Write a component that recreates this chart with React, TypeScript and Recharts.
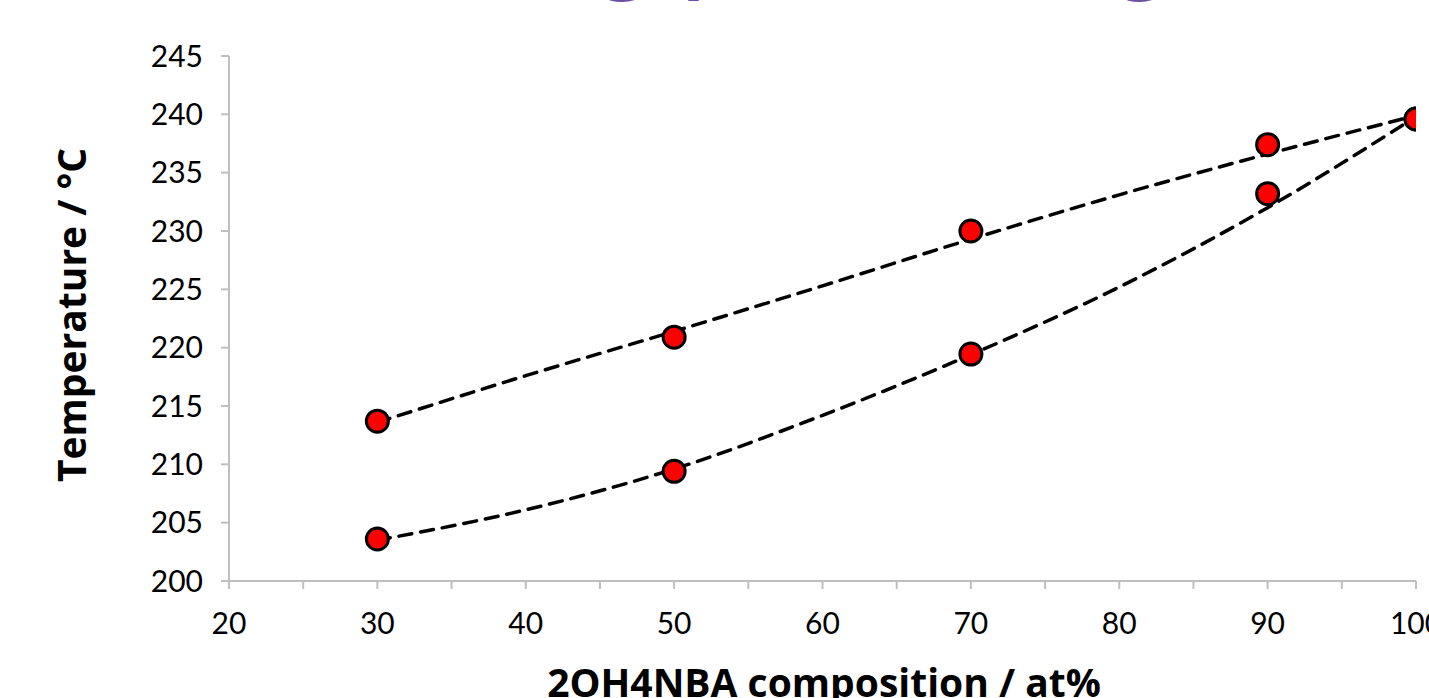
import { ComposedChart, Line, Scatter, XAxis, YAxis } from "recharts";

// measured melting temperatures (°C) vs 2OH4NBA composition (at%)
const liquidusPts = [
  { x: 30, y: 213.7 },
  { x: 50, y: 220.9 },
  { x: 70, y: 230.0 },
  { x: 90, y: 237.4 },
  { x: 100, y: 239.6 },
];
const solidusPts = [
  { x: 30, y: 203.6 },
  { x: 50, y: 209.4 },
  { x: 70, y: 219.45 },
  { x: 90, y: 233.2 },
  { x: 100, y: 239.6 },
];

// dashed trend curves
const fitX = [30, 40, 50, 60, 70, 80, 90, 100];
const liquidusFit = [213.6, 217.6, 221.4, 225.3, 229.3, 233.1, 236.6, 239.9];
const solidusFit = [203.5, 206.1, 209.6, 214.2, 219.4, 225.2, 232.0, 239.8];

const xTicks = [20, 25, 30, 35, 40, 45, 50, 55, 60, 65, 70, 75, 80, 85, 90, 95, 100];
const yTicks = [200, 205, 210, 215, 220, 225, 230, 235, 240, 245];

const upperLine = fitX.map((x, i) => ({ x, y: liquidusFit[i] }));
const lowerLine = fitX.map((x, i) => ({ x, y: solidusFit[i] }));

const FONT = "Lato, 'Open Sans', sans-serif";
const LABEL_FONT = "'Open Sans', sans-serif";
const AXIS = "#bfbfbf";

const Dot = (props: any) => {
  const { cx, cy } = props;
  if (cx == null || cy == null) return null;
  return <circle cx={cx} cy={cy} r={11} fill="#ff0000" stroke="#000" strokeWidth={3} />;
};

export default function App() {
  return (
    <div style={{ position: "absolute", left: 0, top: 0, width: 1429, height: 698, background: "#fff", overflow: "hidden" }}>
      <svg width={1429} height={698} style={{ position: "absolute", left: 0, top: 0 }}>
        <text
          x={271}
          y={-19}
          textLength={1089}
          lengthAdjust="spacing"
          fontFamily={FONT}
          fontSize={115}
          fill="#6a4fa6"
        >
          Melting point diagram
        </text>
        <text
          x={0}
          y={0}
          transform="translate(86, 315) rotate(-90)"
          textAnchor="middle"
          fontFamily={LABEL_FONT}
          fontWeight={700}
          fontSize={39}
          fill="#000"
        >
          Temperature / °C
        </text>
        <text x={824} y={697} textAnchor="middle" fontFamily={LABEL_FONT} fontWeight={700} fontSize={39} fill="#000">
          2OH4NBA composition / at%
        </text>
      </svg>
      <div style={{ position: "absolute", left: 0, top: 0 }}>
        <ComposedChart width={1429} height={698} margin={{ top: 56, right: 13, left: 129, bottom: 0 }}>
          <XAxis
            type="number"
            dataKey="x"
            domain={[20, 100]}
            ticks={xTicks}
            interval={0}
            allowDataOverflow
            tickFormatter={(v: number) => (v % 10 === 0 ? String(v) : "")}
            height={117}
            tickSize={8}
            tickMargin={24}
            axisLine={{ stroke: AXIS, strokeWidth: 2 }}
            tickLine={{ stroke: AXIS, strokeWidth: 2 }}
            tick={{ fill: "#000", fontSize: 30, fontFamily: FONT }}
          />
          <YAxis
            type="number"
            dataKey="y"
            domain={[200, 245]}
            ticks={yTicks}
            interval={0}
            width={100}
            tickSize={8}
            tickMargin={18}
            axisLine={{ stroke: AXIS, strokeWidth: 2 }}
            tickLine={{ stroke: AXIS, strokeWidth: 2 }}
            tick={{ fill: "#000", fontSize: 30, fontFamily: FONT }}
          />
          <Scatter data={liquidusPts} dataKey="y" shape={<Dot />} isAnimationActive={false} />
          <Scatter data={solidusPts} dataKey="y" shape={<Dot />} isAnimationActive={false} />
          <Line
            data={upperLine}
            dataKey="y"
            type="monotone"
            stroke="#000"
            strokeWidth={3.5}
            strokeDasharray="13 9"
            strokeLinecap="round"
            dot={false}
            activeDot={false}
            isAnimationActive={false}
          />
          <Line
            data={lowerLine}
            dataKey="y"
            type="monotone"
            stroke="#000"
            strokeWidth={3.5}
            strokeDasharray="13 9"
            strokeLinecap="round"
            dot={false}
            activeDot={false}
            isAnimationActive={false}
          />
        </ComposedChart>
      </div>
    </div>
  );
}
